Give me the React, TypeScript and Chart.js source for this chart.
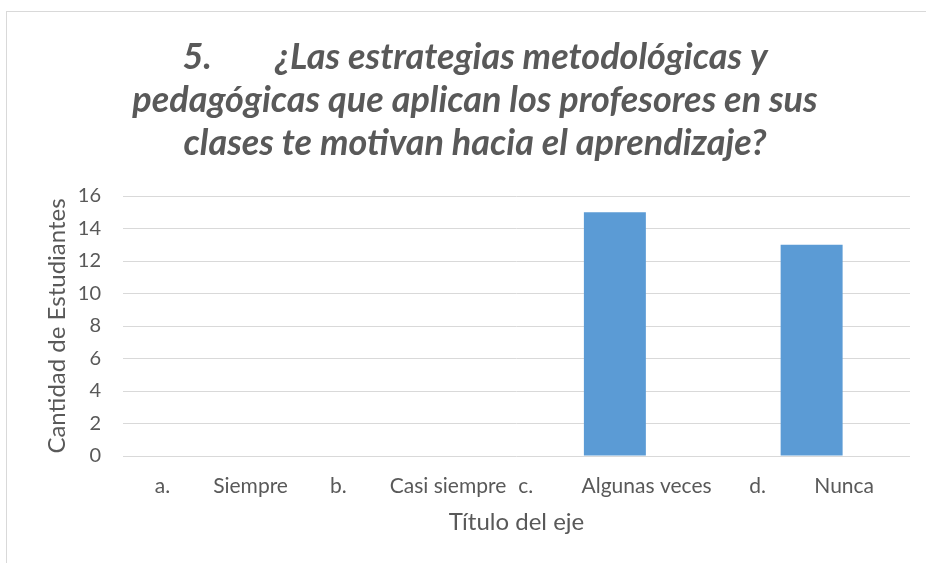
import React, { useEffect, useRef } from "react";
import { Chart, registerables } from "chart.js";

Chart.register(...registerables);

const titleLines = [
  "5.        ¿Las estrategias metodológicas y",
  "pedagógicas que aplican los profesores en sus",
  "clases te motivan hacia el aprendizaje?",
];
const categories = [
  "a.        Siempre",
  "b.        Casi siempre",
  "c.         Algunas veces",
  "d.         Nunca",
];
const values = [0, 0, 15, 13];
const yTitle = "Cantidad de Estudiantes";
const xTitle = "Título del eje";

const FONT = "Lato, 'Open Sans', sans-serif";
const TEXT = "#595959";

const framePlugin = {
  id: "frame",
  beforeDraw(chart: any) {
    const ctx = chart.ctx;
    ctx.save();
    ctx.fillStyle = "#ffffff";
    ctx.fillRect(0, 0, chart.width, chart.height);
    ctx.strokeStyle = "#d9d9d9";
    ctx.lineWidth = 1;
    ctx.strokeRect(6.5, 11.5, 960, 600);
    ctx.restore();
  },
};

export default function App() {
  const ref = useRef<HTMLCanvasElement>(null);
  useEffect(() => {
    document.body.style.margin = "0";
    const chart = new Chart(ref.current!, {
      type: "bar",
      data: {
        labels: categories,
        datasets: [
          {
            data: values,
            backgroundColor: "#5B9BD5",
            categoryPercentage: 1,
            barPercentage: 0.315,
          },
        ],
      },
      options: {
        animation: false,
        responsive: false,
        maintainAspectRatio: false,
        layout: { padding: { left: 40, right: 16, top: 14, bottom: 16 } },
        plugins: {
          legend: { display: false },
          tooltip: { enabled: false },
          title: {
            display: true,
            text: titleLines,
            color: TEXT,
            font: { family: FONT, size: 36, weight: "bold", style: "italic", lineHeight: 43 / 36 },
            padding: { top: 22, bottom: 31 },
          },
        },
        scales: {
          x: {
            grid: { display: false, drawTicks: false },
            border: { display: false },
            ticks: {
              color: TEXT,
              font: { family: FONT, size: 21 },
              autoSkip: false,
              maxRotation: 0,
              padding: 18,
            },
            title: {
              display: true,
              text: xTitle,
              color: TEXT,
              font: { family: FONT, size: 24 },
              padding: { top: 10, bottom: 10 },
            },
            afterFit: (scale: any) => {
              scale.height = 91;
            },
          },
          y: {
            min: 0,
            max: 16,
            ticks: {
              stepSize: 2,
              color: TEXT,
              font: { family: FONT, size: 20 },
              padding: 22,
            },
            grid: { color: "#d9d9d9", drawTicks: false },
            border: { display: false },
            title: {
              display: true,
              text: yTitle,
              color: TEXT,
              font: { family: FONT, size: 24 },
              padding: { top: 3, bottom: 0 },
            },
            afterFit: (scale: any) => {
              scale.width = 123 - 40;
            },
          },
        },
      },
      plugins: [framePlugin],
    });
    return () => chart.destroy();
  }, []);
  return (
    <div style={{ width: 926, height: 563, overflow: "hidden" }}>
      <canvas ref={ref} width={926} height={563} style={{ display: "block" }} />
    </div>
  );
}
